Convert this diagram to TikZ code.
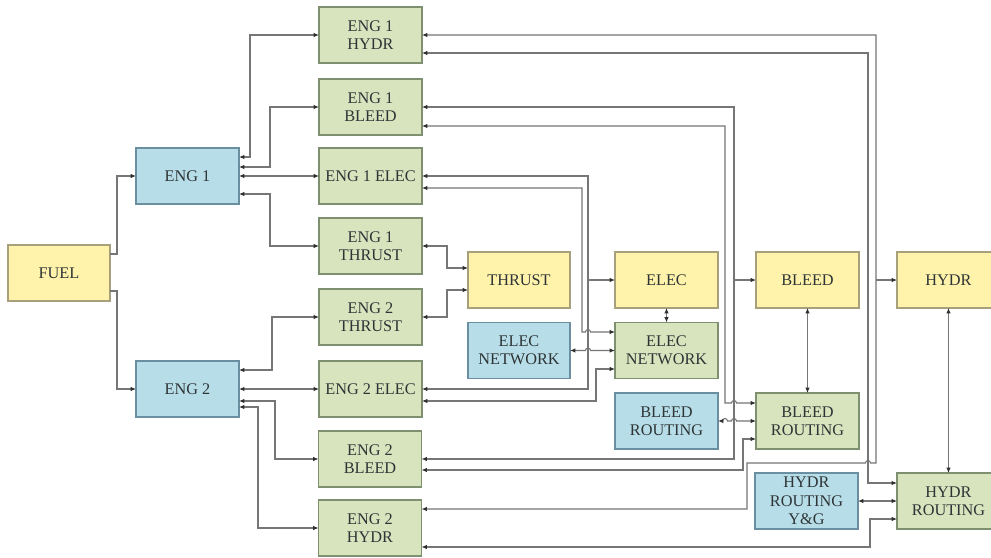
\documentclass[tikz,border=0pt]{standalone}
\usepackage{fontspec}
\setmainfont{Liberation Serif}
\usetikzlibrary{arrows.meta,calc}
\definecolor{yfill}{HTML}{FFF2AA}
\definecolor{ydraw}{HTML}{A8A07A}
\definecolor{gfill}{HTML}{D7E4BD}
\definecolor{gdraw}{HTML}{7E9070}
\definecolor{bfill}{HTML}{B7DEE8}
\definecolor{bdraw}{HTML}{6A8FA0}
\definecolor{txt}{HTML}{2E3436}
\definecolor{linec}{HTML}{767676}
\definecolor{tipc}{HTML}{303030}
\begin{document}
\begin{tikzpicture}[x=0.75pt,y=-0.75pt,
  box/.style={line width=0.8pt,inner sep=0pt,outer sep=0pt,minimum width=77.25pt,minimum height=42pt,align=center,text=txt,font=\fontsize{12.2}{13.7}\selectfont},
  ybox/.style={box,fill=yfill,draw=ydraw},
  gbox/.style={box,fill=gfill,draw=gdraw},
  bbox/.style={box,fill=bfill,draw=bdraw},
  mytip/.tip={Latex[length=4pt,width=3.4pt,color=tipc]},
  conn/.style={draw=linec,line width=0.8pt},
  bi/.style={conn,mytip-mytip},
  fwd/.style={conn,-mytip}]
\useasboundingbox (0,0) rectangle (991,557);
\clip (0,0) rectangle (991,557);
\fill[white] (0,0) rectangle (991,557);
% nodes
\node[ybox,minimum width=76.5pt] (fuel) at (59,273) {FUEL};
\node[bbox] (e1) at (187.5,176) {ENG 1};
\node[bbox] (e2) at (187.5,389) {ENG 2};
\node[gbox] (e1h) at (370.5,35) {ENG 1\\HYDR};
\node[gbox] (e1b) at (370.5,107) {ENG 1\\BLEED};
\node[gbox] (e1e) at (370.5,176) {ENG 1 ELEC};
\node[gbox] (e1t) at (370.5,246) {ENG 1\\THRUST};
\node[gbox] (e2t) at (370.5,317) {ENG 2\\THRUST};
\node[gbox] (e2e) at (370.5,389) {ENG 2 ELEC};
\node[gbox] (e2b) at (370,459) {ENG 2\\BLEED};
\node[gbox] (e2h) at (370,528) {ENG 2\\HYDR};
\node[ybox,minimum width=76.5pt] (thrust) at (519,280) {THRUST};
\node[bbox,minimum width=76.5pt] (elecnetb) at (519,350.5) {ELEC\\NETWORK};
\node[ybox] (elec) at (666.5,280) {ELEC};
\node[gbox] (elecnetg) at (666.5,350.5) {ELEC\\NETWORK};
\node[bbox] (bleedrb) at (666.5,421) {BLEED\\ROUTING};
\node[ybox] (bleed) at (807.5,280) {BLEED};
\node[gbox] (bleedrg) at (807.5,421) {BLEED\\ROUTING};
\node[bbox] (hydrrb) at (806.5,501) {HYDR\\ROUTING\\Y\&G};
\node[ybox] (hydr) at (948.5,280) {HYDR};
\node[gbox] (hydrrg) at (948.5,501) {HYDR\\ROUTING};
% fuel
\draw[fwd] ($(fuel.east)+(0,-19)$) -| (117,176) -- (e1.west);
\draw[fwd] ($(fuel.east)+(0,18)$) -| (117,389) -- (e2.west);
% engine 1
\draw[bi] ($(e1.east)+(0,-19)$) -| (250,35) -- (e1h.west);
\draw[bi] ($(e1.east)+(0,-9)$) -| (270,107) -- (e1b.west);
\draw[bi] (e1.east) -- (e1e.west);
\draw[bi] ($(e1.east)+(0,18)$) -| (270,246) -- (e1t.west);
% engine 2
\draw[bi] ($(e2.east)+(0,-19)$) -| (272,317) -- (e2t.west);
\draw[bi] (e2.east) -- (e2e.west);
\draw[bi] ($(e2.east)+(0,12)$) -| (275,459) -- (e2b.west);
\draw[bi] ($(e2.east)+(0,18)$) -| (258,528) -- (e2h.west);
% thrust
\draw[bi] (e1t.east) -| (447,268) -- ($(thrust.west)+(0,-12)$);
\draw[bi] (e2t.east) -| (447,290) -- ($(thrust.west)+(0,10)$);
% elec
\draw[bi] (e1e.east) -| (588,389) -- (e2e.east);
\coordinate (jE) at (588,280);
\draw[fwd] (jE) -- (elec.west);
\draw[bi] ($(e1e.east)+(0,12)$) -| (582,332) -- (585.5,332) arc[start angle=180,end angle=0,radius=1.875pt] -- ($(elecnetg.west)+(0,-18.5)$);
\draw[bi] (elecnetb.east) -- (585.5,350.5) arc[start angle=180,end angle=0,radius=1.875pt] -- (elecnetg.west);
\draw[bi] ($(e2e.east)+(0,12)$) -| (596,369) -- ($(elecnetg.west)+(0,18.5)$);
\draw[bi] (elec.south) -- (elecnetg.north);
% bleed
\draw[bi] (e1b.east) -| (734,459) -- (e2b.east);
\coordinate (jB) at (734,280);
\draw[fwd] (jB) -- (bleed.west);
\draw[bi] ($(e1b.east)+(0,19)$) -| (725,403) -- (731.5,403) arc[start angle=180,end angle=0,radius=1.875pt] -- ($(bleedrg.west)+(0,-18)$);
\draw[bi] (bleedrb.east) -- (722.5,421) arc[start angle=180,end angle=0,radius=1.875pt] -- (731.5,421) arc[start angle=180,end angle=0,radius=1.875pt] -- (bleedrg.west);
\draw[bi] ($(e2b.east)+(0,11)$) -| (743,439) -- ($(bleedrg.west)+(0,18)$);
\draw[bi] (bleed.south) -- (bleedrg.north);
% hydr
\draw[bi] (e1h.east) -| (876,463) -- (870.5,463) arc[start angle=0,end angle=180,radius=1.875pt] -- (747,463) -- (747,509) -- ($(e2h.east)+(0,-19)$);
\coordinate (jH) at (876,280);
\draw[fwd] (jH) -- (hydr.west);
\draw[bi] ($(e1h.east)+(0,18)$) -| (868,483) -- ($(hydrrg.west)+(0,-18)$);
\draw[bi] (hydrrb.east) -- (hydrrg.west);
\draw[bi] ($(e2h.east)+(0,19)$) -| (870,519) -- ($(hydrrg.west)+(0,18)$);
\draw[bi] (hydr.south) -- (hydrrg.north);
\end{tikzpicture}
\end{document}
